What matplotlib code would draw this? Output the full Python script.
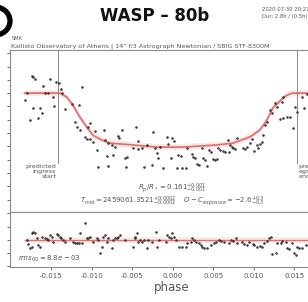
import numpy as np
import matplotlib
matplotlib.use("Agg")
from matplotlib import pyplot as plt
from matplotlib.patches import Arc

# phase in units of 1e-3, flux deviation in ppt
phase_milli = [
    -18.27, -18.02, -17.65, -17.41, -17.28, -17.28, -17.04, -16.67, -16.42, -16.17,
    -16.05, -15.80, -15.43, -15.19, -14.81, -14.69, -14.44, -14.07, -13.83, -13.70,
    -13.33, -12.47, -12.10, -11.85, -11.60, -11.48, -11.23, -10.86, -10.62, -10.49,
    -10.25, -10.25, -9.88, -9.63, -9.38, -9.26, -8.52, -8.40, -8.15, -8.02,
    -8.02, -7.53, -7.41, -7.16, -6.79, -6.67, -6.30, -5.93, -5.80, -5.68,
    -4.94, -4.57, -4.32, -4.32, -3.83, -3.58, -3.21, -2.59, -2.47, -2.22,
    -1.98, -1.85, -1.60, -1.23, -0.74, -0.62, -0.25, -0.12, 0.12, 0.49,
    0.62, 0.99, 1.11, 1.60, 1.73, 2.35, 2.47, 2.72, 2.96, 3.21,
    3.58, 3.70, 3.95, 4.20, 4.44, 4.69, 4.94, 5.19, 5.43, 5.56,
    5.80, 6.17, 6.42, 6.79, 6.91, 7.04, 7.28, 7.41, 7.65, 7.90,
    8.64, 8.89, 9.14, 9.51, 9.75, 10.00, 10.37, 10.49, 10.74, 10.99,
    11.11, 11.36, 11.60, 11.98, 12.22, 12.59, 12.84, 13.21, 13.46, 13.58,
    13.58, 14.07, 14.44, 14.81, 15.06, 15.31, 15.93, 16.17, 16.54,
]
flux_ppt = [
    -2.6, 0.0, -10.2, 6.4, 6.0, -5.6, 5.3, -9.4, -5.6, -7.5,
    2.6, 0.0, 0.0, 5.3, -1.5, -4.9, 4.1, 3.8, 1.5, 0.0,
    -6.0, -4.1, -10.9, -12.8, -4.5, -13.9, 2.3, -16.5, -17.3, -12.8,
    -11.3, -17.3, -18.4, -14.3, -21.4, -27.8, -13.9, -17.7, -23.7, -18.8,
    -27.4, -19.5, -23.3, -20.3, -16.2, -16.9, -13.9, -24.4, -27.8, -24.1,
    -20.7, -12.8, -18.0, -21.1, -20.7, -27.8, -19.5, -27.1, -14.7, -20.7,
    -22.6, -24.4, -20.3, -28.2, -16.5, -19.2, -24.4, -16.9, -18.0, -28.2,
    -23.3, -23.7, -28.2, -28.2, -20.7, -22.9, -24.1, -24.4, -26.7, -27.1,
    -20.7, -24.4, -25.2, -27.4, -21.4, -22.2, -24.8, -25.2, -24.8, -20.7,
    -21.4, -21.8, -22.2, -17.7, -22.2, -19.5, -20.3, -20.7, -21.1, -16.9,
    -20.7, -21.1, -20.3, -18.8, -17.3, -21.8, -19.5, -20.7, -19.2, -18.4,
    -15.8, -12.0, -10.9, -6.4, -7.5, -3.8, -5.3, -9.8, -3.4, -1.5,
    -9.4, -9.0, -9.0, -13.2, -5.3, -7.1, -1.5, -5.6, -0.4,
]

model_phase_milli = [-18.3, -13.95, -13.09, -12.35, -11.48, -10.62, -9.88, -9.01, -7.78,
                     -4.94, -1.98, 1.23, 5.43, 7.41, 9.51, 10.74, 11.60, 12.35, 13.46,
                     14.07, 14.81, 20.0]
model_ppt = [0.0, 0.0, -1.5, -4.5, -9.0, -12.8, -15.8, -17.3, -18.8,
             -19.5, -20.3, -20.3, -19.5, -18.8, -16.5, -13.9, -10.2, -5.6, -2.3,
             -0.8, 0.0, 0.0]

resid_phase_milli = [
    -18.02, -17.90, -17.65, -17.41, -17.41, -17.28, -17.04, -16.79, -16.67, -16.42,
    -16.17, -15.80, -15.56, -15.43, -15.19, -14.94, -14.81, -14.32, -14.20, -13.95,
    -13.83, -13.58, -13.33, -12.72, -12.35, -12.10, -11.85, -11.60, -11.48, -11.23,
    -10.86, -10.62, -10.49, -10.25, -9.88, -9.38, -9.26, -9.01, -8.77, -8.64,
    -8.40, -8.15, -8.02, -7.53, -7.41, -7.16, -6.91, -6.79, -6.54, -5.93,
    -4.94, -4.69, -4.69, -4.44, -4.32, -4.07, -3.83, -3.58, -3.21, -3.09,
    -2.59, -1.98, -2.10, -1.73, -0.86, -0.74, -0.49, -0.25, -0.12, 0.12,
    0.37, 0.74, 1.11, 1.60, 1.73, 2.22, 2.35, 2.59, 2.84, 3.21,
    3.46, 3.58, 3.83, 4.20, 4.69, 5.06, 5.31, 5.68, 5.93, 6.30,
    6.91, 7.16, 7.41, 7.78, 7.90, 8.52, 8.77, 9.14, 9.38, 9.88,
    10.00, 10.37, 10.74, 10.99, 11.23, 11.60, 11.85, 12.10, 12.22, 12.72,
    12.84, 13.33, 13.46, 13.95, 14.07, 14.32, 14.69, 14.94, 15.19, 15.31,
    15.56, 15.93, 16.42,
]
resid_ppt = [
    0.0, -1.5, -3.0, -2.6, 2.6, 3.0, 2.6, 0.8, -1.9, -2.6,
    1.1, 0.8, 0.4, 0.0, 1.9, 1.1, -0.8, 2.3, 1.9, 1.1,
    0.8, 0.0, -0.8, 0.8, -0.8, -1.1, -1.1, -1.1, 2.6, -1.1,
    6.4, 0.8, 0.8, 1.1, -0.8, 0.8, 0.0, -4.9, -2.6, 1.1,
    1.9, -0.8, 0.8, -3.0, 0.0, 0.8, 0.8, 1.1, 1.9, 0.0,
    -2.6, 0.8, 1.1, 2.6, -0.8, 0.0, -0.8, 0.0, -3.0, 0.0,
    -0.8, -2.6, 3.0, 0.0, -0.8, 1.9, 1.1, 0.8, 2.6, 1.1,
    0.0, -2.6, -2.6, -2.6, -1.1, -0.8, 0.8, 0.0, -0.8, -1.1,
    -1.9, -2.6, -3.0, -3.0, -1.9, -1.1, -0.8, 0.0, -0.4, -0.8,
    -1.1, 0.0, -0.4, 0.8, -1.1, -0.8, -1.5, -1.9, -0.8, -1.5,
    -1.9, -2.6, -2.3, -2.6, -1.1, -0.4, 0.8, 1.1, -5.3, -4.9,
    -1.1, -1.1, -0.4, -0.8, -3.0, -3.4, -1.1, -4.9, -5.6, -2.6,
    -3.0, -3.0, -1.9,
]

phase_ticks = [-0.015, -0.010, -0.005, 0.000, 0.005, 0.010, 0.015]

ingress_start = -0.0142
egress_end = 0.0153

line1 = r"$R_p/R_* = 0.161^{+0.001}_{-0.001}$"
line2 = (r"$T_{mid} = 2459061.3521^{+0.0002}_{-0.0002}$    "
         r"$O - C_{exposure} = -2.6^{+0.3}_{-0.3}$")
rms_text = r"$rms_{60} = 8.8e-03$"
obs_text = 'Kallisto Observatory of Athens | 14" f/3 Astrograph Newtonian / SBIG STF-8300M'

GRAY = "#8a8a8a"
TEXT = "#555555"
RED = "#e05a5a"


def style_axes(ax):
    for spine in ax.spines.values():
        spine.set_color(GRAY)
        spine.set_linewidth(0.8)
    ax.tick_params(colors=TEXT, labelsize=5, length=2, width=0.6, pad=2)
    ax.tick_params(axis="y", labelleft=False)


def main() -> None:
    phase = np.array(phase_milli) / 1000
    flux = 1 + np.array(flux_ppt) / 1000
    m_phase = np.array(model_phase_milli) / 1000
    m_flux = 1 + np.array(model_ppt) / 1000
    r_phase = np.array(resid_phase_milli) / 1000
    r_flux = np.array(resid_ppt) / 1000

    fig = plt.figure(figsize=(3.08, 3.02), dpi=100)
    ax = fig.add_axes([0.0325, 0.298, 1.052, 0.5364])
    axr = fig.add_axes([0.0325, 0.1159, 1.052, 0.1821], sharex=ax)

    ax.fill_between(m_phase, m_flux - 0.0012, m_flux + 0.0012, color=RED, alpha=0.12, lw=0)
    ax.plot(m_phase, m_flux, color=RED, lw=1.3, alpha=0.85, zorder=3)
    ax.plot(phase, flux, "o", ms=1.4, mfc="#444444", mec="#111111", mew=0.3, zorder=4)
    ax.axvline(ingress_start, ymin=0.30, ymax=1, color=GRAY, lw=0.7)
    ax.axvline(egress_end, ymin=0.30, ymax=1, color=GRAY, lw=0.7)
    ax.text(ingress_start - 0.0002, 0.9735, "predicted\ningress\nstart", fontsize=4.6,
            color=TEXT, ha="right", va="top", linespacing=1.1)
    ax.text(egress_end + 0.0002, 0.9735, "predicted\negress\nend", fontsize=4.6,
            color=TEXT, ha="left", va="top", linespacing=1.1)
    ax.text(0.5, 0.145, line1, transform=ax.transAxes, ha="center", va="center",
            fontsize=5.0, color=TEXT)
    ax.text(0.5, 0.068, line2, transform=ax.transAxes, ha="center", va="center",
            fontsize=5.0, color=TEXT)
    ax.set_xlim(-0.0201, 0.0199)
    ax.set_ylim(1 - 0.0447, 1 + 0.0162)
    ax.yaxis.set_major_locator(plt.MultipleLocator(0.005))
    style_axes(ax)
    ax.tick_params(axis="x", bottom=False, labelbottom=False)

    axr.fill_between([-0.0183, 0.02], -0.0012, 0.0012, color=RED, alpha=0.12, lw=0)
    axr.axhline(0, xmin=(-0.0183 + 0.0201) / 0.04, color=RED, lw=1.0, alpha=0.85)
    axr.plot(r_phase, r_flux, "o", ms=1.4, mfc="#444444", mec="#111111", mew=0.3, zorder=4)
    axr.set_ylim(-0.0102, 0.0105)
    axr.yaxis.set_major_locator(plt.MultipleLocator(0.005))
    axr.set_xticks(phase_ticks)
    axr.xaxis.set_major_formatter(plt.FormatStrFormatter("%.3f"))
    axr.text(0.025, 0.15, rms_text, transform=axr.transAxes, fontsize=5, color=TEXT,
             ha="left", va="center")
    style_axes(axr)
    axr.set_xlabel("phase", fontsize=8.5, color=TEXT, labelpad=2)

    fig.text(0.503, 0.947, "WASP – 80b", fontsize=12, weight="bold", ha="center",
             va="center", color="#111111")
    fig.text(0.851, 0.967, "2020-07-30 20:27 UT", fontsize=3.8, color=TEXT,
             ha="left", va="center")
    fig.text(0.851, 0.945, "Dur: 2.8h / (0.5h)", fontsize=3.8, color=TEXT,
             ha="left", va="center")
    fig.text(0.039, 0.871, "SMK", fontsize=3.6, color=TEXT, ha="left", va="center")
    fig.text(0.036, 0.848, obs_text, fontsize=4.6, color=TEXT, ha="left", va="center")

    logo = Arc((-0.05, 2.81), 0.30, 0.28, theta1=-75, theta2=75, lw=3.8, color="black",
               transform=fig.dpi_scale_trans)
    fig.add_artist(logo)

    fig.savefig("out.png", dpi=100)


if __name__ == "__main__":
    main()
